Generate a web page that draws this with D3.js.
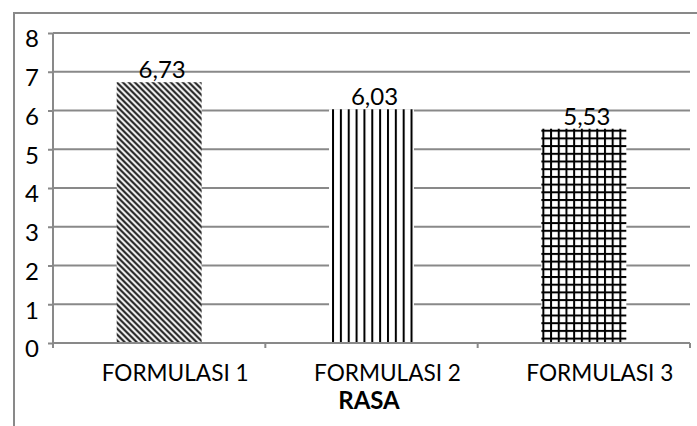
<!DOCTYPE html>
<html>
<head>
<meta charset="utf-8">
<script src="https://cdn.jsdelivr.net/npm/d3@7"></script>
<style>
html,body{margin:0;padding:0;background:#fff;}
svg{display:block;}
text{font-family:Lato,"Open Sans",sans-serif;fill:#000;}
</style>
</head>
<body>
<svg id="chart" width="697" height="426"></svg>
<script>
const categories = ["FORMULASI 1", "FORMULASI 2", "FORMULASI 3"];
const values = [6.73, 6.03, 5.53];
const valueLabels = ["6,73", "6,03", "5,53"];
const yTicks = [0, 1, 2, 3, 4, 5, 6, 7, 8];
const axisTitle = "RASA";
const patterns = ["diag", "vert", "grid"];

const svg = d3.select("#chart");
const margin = {left: 53, right: 697 - 690, top: 33, bottom: 426 - 343};
const W = 697, H = 426;
const FS = 24;
const x = d3.scaleBand().domain(categories).range([margin.left, W - margin.right]).paddingInner(0.6).paddingOuter(0.3);
const y = d3.scaleLinear().domain([0, 8]).range([H - margin.bottom, margin.top]);
const grey = "#898989";

// outer chart-area border (left and top visible)
svg.append("path").attr("d", "M14,427 V13 H700").attr("fill", "none").attr("stroke", grey).attr("stroke-width", 2);

// patterns
const defs = svg.append("defs");
const bw = x.bandwidth();
categories.forEach((c, i) => {
  const px = x(c);
  const top = y(values[i]);
  const p = defs.append("pattern").attr("id", "pat" + i).attr("patternUnits", "userSpaceOnUse");
  if (patterns[i] === "diag") {
    const s = 6;
    p.attr("width", s).attr("height", s).attr("x", px).attr("y", top);
    p.append("rect").attr("width", s).attr("height", s).attr("fill", "#fff");
    p.append("path").attr("d", `M-1,-1 L${s+1},${s+1} M${-s-1},-1 L1,${s+1} M${s-1},-1 L${2*s+1},${s+1}`)
      .attr("stroke", "#1a1a1a").attr("stroke-width", 2.1);
  } else if (patterns[i] === "vert") {
    const s = 7.85;
    p.attr("width", s).attr("height", 10).attr("x", px + 3).attr("y", top);
    p.append("rect").attr("width", s).attr("height", 10).attr("fill", "#fff");
    p.append("rect").attr("x", 0).attr("width", 2).attr("height", 10).attr("fill", "#000");
  } else {
    const s = 7.7;
    p.attr("width", s).attr("height", s).attr("x", px + 1).attr("y", top + 1);
    p.append("rect").attr("width", s).attr("height", s).attr("fill", "#fff");
    p.append("rect").attr("x", 0).attr("width", 2).attr("height", s).attr("fill", "#000");
    p.append("rect").attr("y", 0).attr("width", s).attr("height", 2).attr("fill", "#000");
  }
});

// gridlines
svg.append("g").selectAll("line").data(yTicks.filter(d => d > 0)).join("line")
  .attr("x1", margin.left).attr("x2", W - margin.right)
  .attr("y1", d => y(d)).attr("y2", d => y(d))
  .attr("stroke", grey).attr("stroke-width", 2);

// bars
svg.append("g").selectAll("rect").data(values).join("rect")
  .attr("x", (d, i) => x(categories[i]))
  .attr("y", d => y(d))
  .attr("width", bw)
  .attr("height", d => y(0) - y(d))
  .attr("fill", (d, i) => `url(#pat${i})`);

// y axis
const yAxis = d3.axisLeft(y).tickValues(yTicks).tickSize(5).tickSizeOuter(0).tickFormat(d3.format("d"));
const gy = svg.append("g").attr("transform", `translate(${margin.left},0)`).call(yAxis);
gy.select(".domain").attr("stroke", grey).attr("stroke-width", 2).attr("d", `M0,${y(8)}V${y(0) + 5}`);
gy.selectAll(".tick line").attr("stroke", grey).attr("stroke-width", 2);
gy.selectAll(".tick text").attr("font-size", FS).attr("x", -14).attr("dy", "0.58em")
  .style("font-family", "Lato,'Open Sans',sans-serif").attr("fill", "#000");

// x axis
const xBoundaries = [0, 1, 2, 3].map(i => margin.left + i * (W - margin.right - margin.left) / 3);
const gx = svg.append("g");
gx.append("line").attr("x1", margin.left).attr("x2", W - margin.right).attr("y1", y(0)).attr("y2", y(0))
  .attr("stroke", grey).attr("stroke-width", 2);
gx.selectAll("line.tk").data(xBoundaries).join("line").attr("class", "tk")
  .attr("x1", d => d).attr("x2", d => d).attr("y1", y(0)).attr("y2", y(0) + 5)
  .attr("stroke", grey).attr("stroke-width", 2);

gx.selectAll("text.cat").data(categories).join("text").attr("class", "cat")
  .attr("x", d => x(d) + bw / 2 + 16).attr("y", 380.5)
  .attr("text-anchor", "middle").attr("font-size", FS)
  .attr("textLength", 147).attr("lengthAdjust", "spacingAndGlyphs")
  .text(d => d);

// data labels
svg.append("g").selectAll("text").data(values).join("text")
  .attr("x", (d, i) => x(categories[i]) + bw / 2 + 3)
  .attr("y", d => y(d) - 4)
  .attr("text-anchor", "middle").attr("font-size", FS).text((d, i) => valueLabels[i]);

// axis title
svg.append("text").attr("x", 369).attr("y", 409).attr("text-anchor", "middle")
  .attr("font-size", FS).attr("font-weight", "bold").text(axisTitle);
</script>
</body>
</html>
